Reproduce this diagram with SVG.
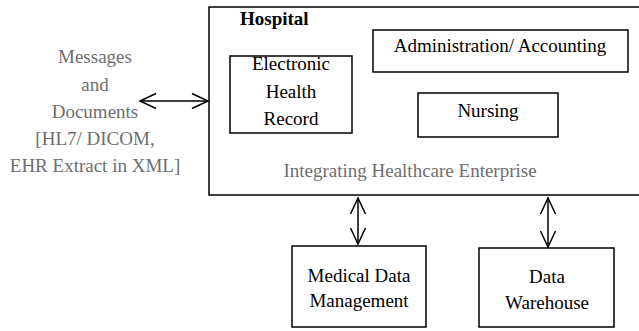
<svg xmlns="http://www.w3.org/2000/svg" width="639" height="331" viewBox="0 0 639 331">
<style>
text{font-family:"Liberation Serif","Times New Roman",serif;font-size:19px;fill:#000;text-anchor:middle}
.g{fill:#6e6e6e}
.b{font-weight:bold;text-anchor:start}
.box{fill:#fff;stroke:#000;stroke-width:1.5}
.c{fill:none;stroke:#000;stroke-width:1.5}
</style>
<defs>
<marker id="ah" viewBox="0 0 20 20" refX="17" refY="10" markerWidth="20" markerHeight="20" markerUnits="userSpaceOnUse" orient="auto-start-reverse">
<path d="M1,2.5 L17,10 L1,17.5" fill="none" stroke="#000" stroke-width="1.5"/>
</marker>
</defs>
<g id="hospital">
<rect class="box" x="209" y="7" width="434" height="188"/>
<text class="b" x="240" y="25">Hospital</text>
<text class="g" x="410" y="177">Integrating Healthcare Enterprise</text>
</g>
<g id="messages">
<text class="g" x="95" y="63">Messages</text>
<text class="g" x="95" y="91">and</text>
<text class="g" x="95" y="118">Documents</text>
<text class="g" x="95" y="145">[HL7/ DICOM,</text>
<text class="g" x="95" y="172">EHR Extract in XML]</text>
</g>
<g id="ehr">
<rect class="box" x="230" y="56" width="122" height="77"/>
<text x="291" y="70">Electronic</text>
<text x="291" y="98">Health</text>
<text x="291" y="125">Record</text>
</g>
<g id="admin">
<rect class="box" x="373" y="30" width="255" height="42"/>
<text x="500" y="52">Administration/ Accounting</text>
</g>
<g id="nursing">
<rect class="box" x="418" y="93" width="140" height="44"/>
<text x="488" y="117">Nursing</text>
</g>
<g id="mdm">
<rect class="box" x="292" y="246" width="134" height="81"/>
<text x="359" y="282">Medical Data</text>
<text x="359" y="307">Management</text>
</g>
<g id="dw">
<rect class="box" x="479" y="248" width="135" height="79"/>
<text x="547" y="283">Data</text>
<text x="547" y="309">Warehouse</text>
</g>
<g id="connectors">
<line class="c" x1="140" y1="101" x2="208" y2="101" marker-start="url(#ah)" marker-end="url(#ah)"/>
<line class="c" x1="358" y1="198" x2="358" y2="244" marker-start="url(#ah)" marker-end="url(#ah)"/>
<line class="c" x1="548" y1="198" x2="548" y2="247" marker-start="url(#ah)" marker-end="url(#ah)"/>
</g>
</svg>
